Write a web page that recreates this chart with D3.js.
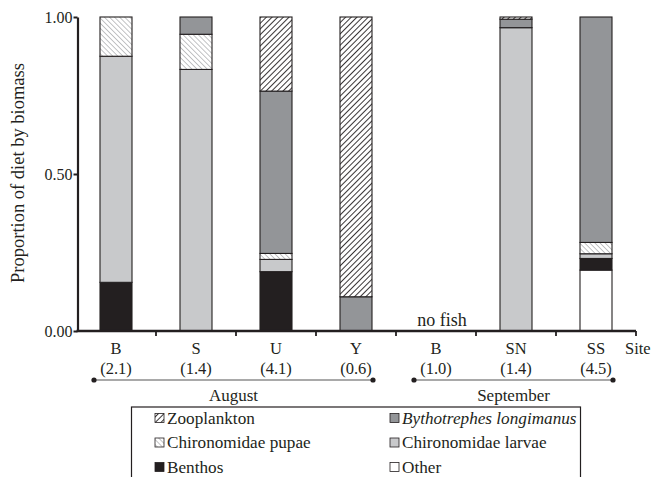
<!DOCTYPE html>
<html><head><meta charset="utf-8">
<script src="https://cdn.jsdelivr.net/npm/d3@7"></script>
<style>
body{margin:0;background:#fff;}
svg{display:block;font-family:"Liberation Serif","Times New Roman",serif;}
</style></head>
<body>
<svg id="chart" width="662" height="477"></svg>
<script>
// ---- data ----
const siteIds   = ["Aug-B","Aug-S","Aug-U","Aug-Y","Sep-B","Sep-SN","Sep-SS"];
const siteNames = ["B","S","U","Y","B","SN","SS"];
const siteSizes = ["(2.1)","(1.4)","(4.1)","(0.6)","(1.0)","(1.4)","(4.5)"];
const months    = [{label:"August", first:0, last:3},{label:"September", first:4, last:6}];
const noFish    = ["Sep-B"];

// series in stacking order (bottom to top)
const seriesKeys  = ["Other","Benthos","Chironomidae larvae","Chironomidae pupae","Bythotrephes longimanus","Zooplankton"];
const otherVals   = [0,     0,     0,     0,     0, 0,     0.194];
const benthosVals = [0.155, 0,     0.189, 0,     0, 0,     0.037];
const larvaeVals  = [0.720, 0.833, 0.039, 0,     0, 0.966, 0.015];
const pupaeVals   = [0.125, 0.112, 0.019, 0,     0, 0,     0.036];
const bythoVals   = [0,     0.055, 0.517, 0.109, 0, 0.027, 0.718];
const zoopVals    = [0,     0,     0.236, 0.891, 0, 0.007, 0];
const yTicks = [0, 0.5, 1.0];

const legendLeft  = ["Zooplankton","Chironomidae pupae","Benthos"];
const legendRight = ["Bythotrephes longimanus","Chironomidae larvae","Other"];

// ---- build ----
const valuesByKey = {
  "Other": otherVals, "Benthos": benthosVals, "Chironomidae larvae": larvaeVals,
  "Chironomidae pupae": pupaeVals, "Bythotrephes longimanus": bythoVals, "Zooplankton": zoopVals
};
const rows = siteIds.map((id,i)=>{
  const r = {id};
  seriesKeys.forEach(k=>r[k]=valuesByKey[k][i]);
  return r;
});

const svg = d3.select("#chart");
const defs = svg.append("defs");
const ink = "#231f20";

function hatch(id, color, dir, width, size){
  const p = defs.append("pattern").attr("id",id).attr("patternUnits","userSpaceOnUse")
    .attr("width",size).attr("height",size)
    .attr("patternTransform", `rotate(${dir})`);
  p.append("rect").attr("width",size).attr("height",size).attr("fill","#fff");
  p.append("line").attr("x1",0).attr("y1",0).attr("x2",0).attr("y2",size)
    .attr("stroke",color).attr("stroke-width",width);
}
hatch("zoopPat",ink,45,1.8,4);
hatch("pupaePat","#b4b5b7",-45,1.6,3.6);

const fills = {
  "Other":"#ffffff",
  "Benthos":ink,
  "Chironomidae larvae":"#c8c9cb",
  "Chironomidae pupae":"url(#pupaePat)",
  "Bythotrephes longimanus":"#939598",
  "Zooplankton":"url(#zoopPat)"
};

const x = d3.scaleBand().domain(siteIds).range([76,636]).paddingInner(0.6).paddingOuter(0.3);
const y = d3.scaleLinear().domain([0,1]).range([331,17]);

const stack = d3.stack().keys(seriesKeys)(rows);

const g = svg.append("g");
stack.forEach(layer=>{
  g.selectAll(null).data(layer.filter(d=>d[1]-d[0]>0)).join("rect")
    .attr("x",d=>x(d.data.id))
    .attr("width",x.bandwidth())
    .attr("y",d=>y(d[1]))
    .attr("height",d=>y(d[0])-y(d[1]))
    .attr("fill",fills[layer.key])
    .attr("stroke",ink).attr("stroke-width",1.1);
});

// y axis
const yAxis = d3.axisLeft(y).tickValues(yTicks).tickFormat(d3.format(".2f")).tickSize(4).tickSizeOuter(0);
const ya = svg.append("g").attr("transform","translate(77.5,0)").call(yAxis);
ya.select(".domain").attr("stroke",ink).attr("stroke-width",2.2);
ya.selectAll(".tick line").attr("stroke",ink).attr("stroke-width",2);
ya.selectAll(".tick text").attr("font-size",16).attr("font-family","Liberation Serif").attr("fill",ink).attr("x",-5);

// x axis with ticks at band boundaries
const step = x.step();
const bounds = siteIds.map(id=>x(id)+x.bandwidth()+step*x.paddingInner()/2);
bounds[bounds.length-1] = 636;
svg.append("line").attr("x1",76.5).attr("x2",636).attr("y1",331).attr("y2",331)
  .attr("stroke",ink).attr("stroke-width",2.6);
svg.selectAll(null).data(bounds).join("line")
  .attr("x1",d=>d).attr("x2",d=>d).attr("y1",331).attr("y2",336)
  .attr("stroke",ink).attr("stroke-width",1.8);

// category labels
svg.selectAll(null).data(siteIds).join("text")
  .attr("x",d=>x(d)+x.bandwidth()/2).attr("y",354)
  .attr("text-anchor","middle").attr("font-size",16.5).attr("fill",ink)
  .text((d,i)=>siteNames[i]);
svg.selectAll(null).data(siteIds).join("text")
  .attr("x",d=>x(d)+x.bandwidth()/2).attr("y",373.5)
  .attr("text-anchor","middle").attr("font-size",16.5).attr("fill",ink)
  .text((d,i)=>siteSizes[i]);
svg.append("text").attr("x",625).attr("y",354).attr("font-size",16.5).attr("fill",ink).text("Site");

// no fish
noFish.forEach(id=>{
  svg.append("text").attr("x",x(id)+x.bandwidth()/2+6).attr("y",326)
    .attr("text-anchor","middle").attr("font-size",18).attr("fill",ink).text("no fish");
});

// month brackets
months.forEach(m=>{
  const x0 = x(siteIds[m.first])+x.bandwidth()/2-22;
  const x1 = x(siteIds[m.last])+x.bandwidth()/2+17;
  svg.append("line").attr("x1",x0).attr("x2",x1).attr("y1",380).attr("y2",380)
    .attr("stroke","#555").attr("stroke-width",1.2);
  [x0,x1].forEach(cx=>svg.append("circle").attr("cx",cx).attr("cy",380).attr("r",2.6).attr("fill",ink));
  svg.append("text").attr("x",(x0+x1)/2).attr("y",401).attr("text-anchor","middle")
    .attr("font-size",17).attr("fill",ink).text(m.label);
});

// y label
svg.append("text").attr("transform","translate(24,173) rotate(-90)")
  .attr("text-anchor","middle").attr("font-size",18.5).attr("fill",ink)
  .text("Proportion of diet by biomass");

// legend
svg.append("rect").attr("x",131.5).attr("y",407).attr("width",449).attr("height",90)
  .attr("fill","none").attr("stroke",ink).attr("stroke-width",1.2);
function legendCol(items, sx, tx){
  items.forEach((k,i)=>{
    const cy = 418 + i*24.5;
    svg.append("rect").attr("x",sx).attr("y",cy-4.5).attr("width",9).attr("height",9)
      .attr("fill",fills[k]).attr("stroke",ink).attr("stroke-width",0.8);
    svg.append("text").attr("x",tx).attr("y",cy+5.5).attr("font-size",17.2).attr("fill",ink)
      .attr("font-style", k==="Bythotrephes longimanus" ? "italic" : "normal").text(k);
  });
}
legendCol(legendLeft,155,167);
legendCol(legendRight,390,402);
</script>
</body></html>
